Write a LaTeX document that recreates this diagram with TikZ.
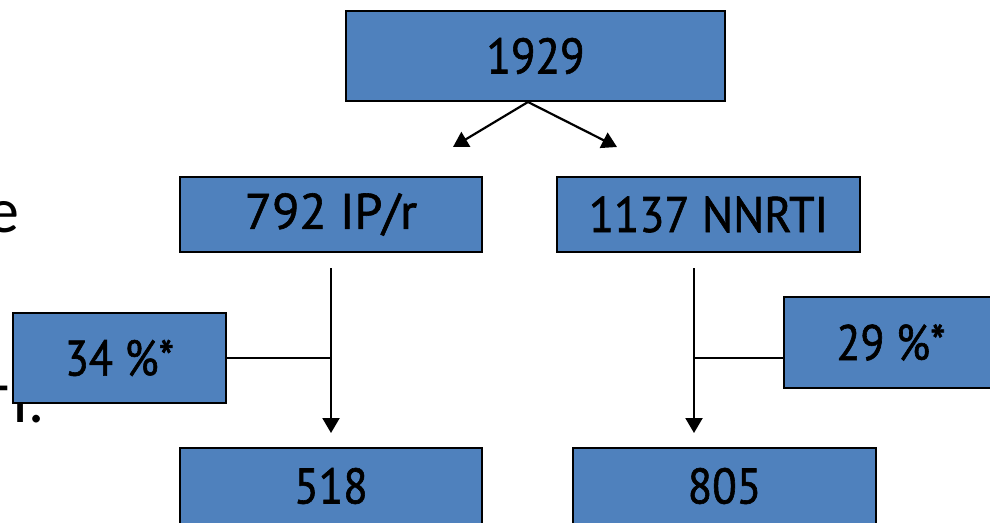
\documentclass[tikz,border=0pt]{standalone}
\usepackage{fontspec}
\setmainfont{PT Sans}
\newfontfamily\boxfont[FakeBold=1.2]{PT Sans}
\newfontfamily\fragfont{Carlito}
\usetikzlibrary{arrows.meta}
\definecolor{boxblue}{RGB}{79,129,189}
\newcommand{\sq}[2]{{\addfontfeature{FakeStretch=#1}#2}}
\begin{document}
\begin{tikzpicture}[x=1pt,y=-1pt,
  box/.style={draw=black, line width=2.2pt, fill=boxblue, inner sep=0pt,
    text=black, font=\boxfont\fontsize{50}{50}\selectfont},
  frag/.style={inner sep=0pt, font=\fragfont\fontsize{64}{64}\selectfont},
  conn/.style={line width=2.2pt, -{Triangle[length=15pt,width=17pt]}},
  joinline/.style={line width=2.2pt}]
\useasboundingbox (0,0) rectangle (990,522);
\clip (0,0) rectangle (990,522);
% cut-off background text fragments
\node[frag, anchor=base east] (fe) at (20,232) {e};
\node[frag, anchor=base east] (fh) at (10,406) {-};
\node[frag, anchor=base west] (fi) at (12,422) {I.};
% boxes
\node[box, minimum width=379pt, minimum height=90pt] (top) at (535.5,56) {\sq{0.9}{1929}};
\node[box, minimum width=302pt, minimum height=75pt] (ip) at (331,214.5) {792 IP/r};
\node[box, minimum width=303pt, minimum height=75pt] (nn) at (708.5,214.5) {\sq{0.925}{1137 NNRTI}};
\node[box, minimum width=213pt, minimum height=90pt] (pl) at (119.5,358) {\sq{0.88}{34 \%*}};
\node[box, minimum width=214pt, minimum height=91pt] (pr) at (891,342.5) {\sq{0.88}{29 \%*}};
\node[box, minimum width=302pt, minimum height=76pt] (bl) at (331,486) {\sq{0.9}{518}};
\node[box, minimum width=303pt, minimum height=76pt] (br) at (724.5,486) {\sq{0.9}{805}};
% coordinates
\coordinate (apex) at (528,102);
\coordinate (tl) at (453,147);
\coordinate (tr) at (617,147);
\coordinate (ls) at (331,268);
\coordinate (le) at (331,433);
\coordinate (rs) at (694,268);
\coordinate (re) at (694,433);
\coordinate (rjy) at (0,358);
% connectors
\draw[conn] (apex) -- (tl);
\draw[conn] (apex) -- (tr);
\draw[conn] (ls) -- (le);
\draw[conn] (rs) -- (re);
\draw[joinline] (pl.east) -- (pl.east -| ls);
\draw[joinline] (pr.west |- rjy) -- (rs |- rjy);
\end{tikzpicture}
\end{document}
